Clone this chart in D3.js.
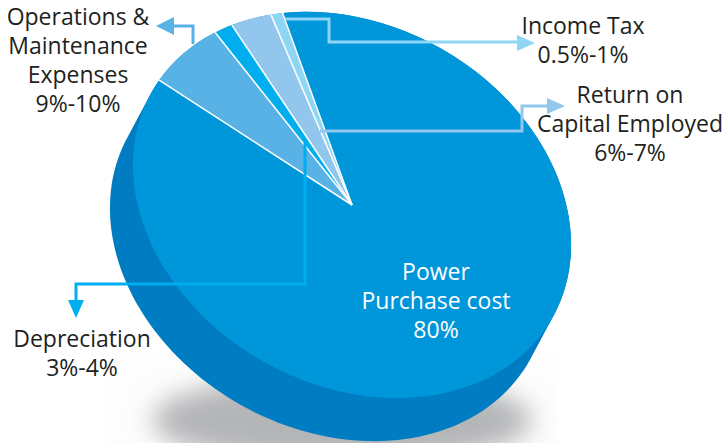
<!DOCTYPE html>
<html>
<head>
<meta charset="utf-8">
<script src="https://cdnjs.cloudflare.com/ajax/libs/d3/7.8.5/d3.min.js"></script>
<style>
  html, body { margin: 0; padding: 0; background: #fff; }
  svg { display: block; }
  text { font-family: "Open Sans", sans-serif; font-size: 23px; fill: #231f20; text-anchor: middle; }
</style>
</head>
<body>
<script>
// Slices in drawing order, clockwise. Values are the shares as drawn, not the label ranges
const sliceNames = ['Operations & Maintenance', 'Depreciation', 'Return on Capital Employed', 'Income Tax', 'Power Purchase cost'];
const sliceValues = [6.4, 1.5, 3.2, 0.9, 88];
const sliceColors = ['#58b2e6', '#00aeef', '#92c6ec', '#8fd6f5', '#0096da'];

const labelLines = [
    ['Operations &', 'Maintenance', 'Expenses', '9%-10%'],
    ['Depreciation', '3%-4%'],
    ['Return on', 'Capital Employed', '6%-7%'],
    ['Income Tax', '0.5%-1%'],
    ['Power', 'Purchase cost', '80%']
];
const labelX = [78, 82, 630, 583, 436];
const labelY = [25, 347, 103, 34, 280];

const width = 725, height = 443;
const cx = 352, cy = 205, rx = 230, ry = 180, tilt = 29.3;
const depth = [-23, 43];

const svg = d3.select('body').append('svg')
    .attr('width', width)
    .attr('height', height);

const defs = svg.append('defs');
defs.append('filter').attr('id', 'blur')
    .attr('x', '-20%').attr('y', '-50%').attr('width', '140%').attr('height', '200%')
    .append('feGaussianBlur').attr('stdDeviation', 13);
defs.append('clipPath').attr('id', 'shadow-clip')
    .append('rect').attr('x', 106).attr('y', 352).attr('width', 452).attr('height', 91);

// Shadow under the pie, cut off by its box like in the original
const shadow = svg.append('g').attr('clip-path', 'url(#shadow-clip)');
shadow.append('rect')
    .attr('x', 106).attr('y', 352).attr('width', 452).attr('height', 91)
    .attr('fill', '#fdfdfd');
shadow.append('ellipse')
    .attr('cx', 342).attr('cy', 420)
    .attr('rx', 190).attr('ry', 46)
    .attr('fill', '#b4b5b7')
    .attr('filter', 'url(#blur)');

// Side wall: hull of the top ellipse and the same ellipse moved down
const rad = tilt * Math.PI / 180;
const rim = d3.range(0, 360, 2).map(deg => {
    const t = deg * Math.PI / 180;
    const u = rx * Math.cos(t), v = ry * Math.sin(t);
    return [cx + u * Math.cos(rad) - v * Math.sin(rad), cy + u * Math.sin(rad) + v * Math.cos(rad)];
});
const wall = d3.polygonHull(rim.concat(rim.map(p => [p[0] + depth[0], p[1] + depth[1]])));
svg.append('path')
    .attr('d', d3.line()(wall) + 'Z')
    .attr('fill', '#007cc3');

// Top face: a unit pie squashed into the tilted ellipse
const pie = d3.pie().sort(null)
    .startAngle(274.6 * Math.PI / 180)
    .endAngle((274.6 + 360) * Math.PI / 180);
const arc = d3.arc().innerRadius(0).outerRadius(1);
const slices = pie(sliceValues);

const face = svg.append('g')
    .attr('transform', `translate(${cx},${cy}) rotate(${tilt}) scale(${rx},${ry})`);

face.selectAll('path')
    .data(slices)
    .join('path')
    .attr('d', arc)
    .attr('fill', (d, i) => sliceColors[i]);

// White separators only along the radii, the rim stays clean
face.selectAll('line')
    .data(slices)
    .join('line')
    .attr('x2', d => d3.pointRadial(d.startAngle, 1)[0])
    .attr('y2', d => d3.pointRadial(d.startAngle, 1)[1])
    .attr('stroke', '#fff')
    .attr('stroke-width', 1.5)
    .attr('vector-effect', 'non-scaling-stroke');

// Leader lines with arrow heads
const leaders = [
    { color: '#58b2e6', pts: [[193, 44], [193, 26], [172, 26]], head: [[156, 26], [174, 17], [174, 35]] },
    { color: '#00aeef', pts: [[305, 143], [305, 284], [76, 284], [76, 302]], head: [[76, 318], [68, 300], [84, 300]] },
    { color: '#92c6ec', pts: [[320, 131], [522, 131], [522, 106], [552, 106]], head: [[565, 106], [547, 98], [547, 114]] },
    { color: '#8fd6f5', pts: [[285, 19], [329, 19], [329, 42], [522, 42]], head: [[535, 43], [517, 35], [517, 51]] }
];
leaders.forEach(l => {
    svg.append('path')
        .attr('d', d3.line()(l.pts))
        .attr('fill', 'none')
        .attr('stroke', l.color)
        .attr('stroke-width', 3);
    svg.append('path')
        .attr('d', d3.line()(l.head) + 'Z')
        .attr('fill', l.color);
});

// Labels
labelLines.forEach((lines, i) => {
    const t = svg.append('text')
        .attr('x', labelX[i])
        .attr('y', labelY[i]);
    if (i === 4) t.style('fill', '#fff');
    lines.forEach((line, j) => {
        t.append('tspan')
            .attr('x', labelX[i])
            .attr('dy', j === 0 ? 0 : 29)
            .text(line);
    });
});
</script>
</body>
</html>
